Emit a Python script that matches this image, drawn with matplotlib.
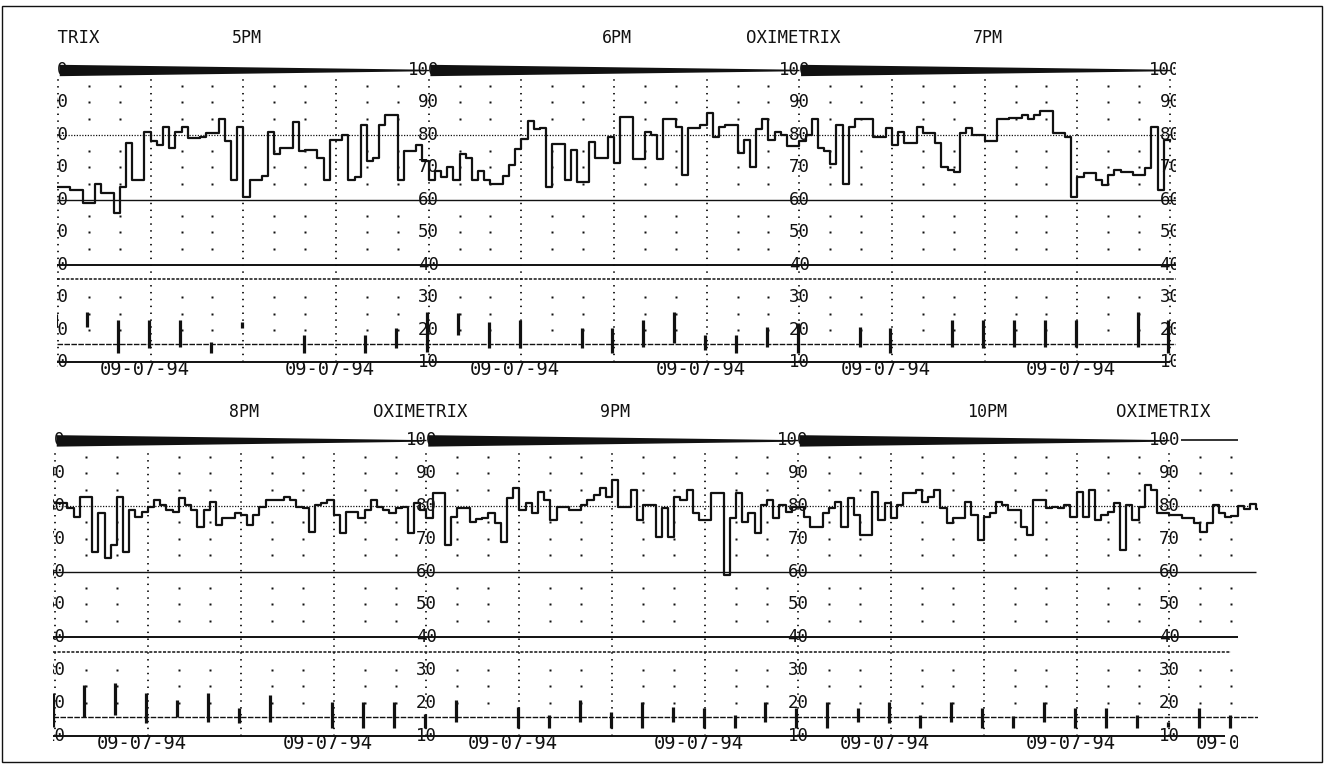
import numpy as np
import matplotlib
matplotlib.use("Agg")
import matplotlib.pyplot as plt
from matplotlib.patches import Rectangle

# ---------------- data (SpO2 %, one value per minute) ----------------
spo2_5pm = [64, 64, 63, 63, 59, 59, 65, 62, 62, 56,
            64, 77.5, 66, 66, 81, 78, 77, 82.5, 76, 81,
            82.5, 79, 79, 79.5, 80.5, 80.5, 85, 78, 66, 82.5,
            61, 66, 66, 67.5, 81, 74, 76, 76, 84, 75,
            75.5, 75.5, 73, 66, 78.5, 78.5, 80, 66, 67, 83,
            72, 73, 83, 86, 86, 66, 75, 75, 77, 72]
spo2_6pm = [66, 69, 67, 70, 66, 74, 73, 66, 69, 66,
            65, 65, 67.5, 70.7, 75.8, 78.8, 84.4, 81.8, 82.3, 63.9,
            77.2, 77.2, 66.1, 75.3, 65.6, 65.6, 77.7, 73, 73, 79.5,
            71.3, 85.6, 85.6, 72.6, 72.6, 81, 80, 72.6, 85, 85,
            82.6, 67.7, 82, 82, 83, 86.7, 79.5, 82.6, 83, 83,
            74.4, 78.6, 70, 81.7, 84.8, 78.6, 81, 80, 76.7, 76.7]
spo2_7pm = [78, 80, 84.8, 76, 75, 71, 83, 65, 82.6, 85,
            85, 85, 79.5, 79.5, 82, 77, 81, 77.5, 77.5, 82.6,
            80.5, 80.5, 77.5, 70.3, 69.2, 68.7, 80.5, 82, 80, 80,
            78, 78, 84.8, 84.8, 85.3, 85.3, 86.3, 85, 86.3, 87.4,
            87.4, 80.5, 80.5, 79.5, 61, 67.2, 68.2, 68.2, 66, 64.6,
            67.7, 69.2, 68.7, 68.7, 67.7, 67.7, 69.7, 82.6, 63, 78.6]
spo2_8pm = [80.8, 80.8, 79.3, 76.7, 82.8, 82.8, 66, 77.8, 64, 68,
            82.8, 66, 78.8, 76.7, 78.3, 79.8, 81.8, 80.3, 78.8, 78.3,
            82.3, 80.3, 78.8, 73.7, 78.8, 81.3, 74.2, 76.2, 76.2, 77.8,
            77.3, 74.2, 77.3, 79.8, 81.8, 81.8, 81.8, 82.8, 81.8, 79.8,
            79.3, 72.2, 80.3, 80.8, 81.8, 77.3, 71.7, 78.3, 78.3, 76.2,
            78.8, 81.8, 79.8, 78.8, 77.8, 79.3, 79.8, 71.7, 80.8, 78.8]
spo2_9pm = [76.2, 83.9, 83.9, 68.1, 76.7, 79.3, 79.3, 75.2, 76, 76.2,
            77.8, 74.7, 69.1, 82.3, 85.4, 78.8, 80.8, 77.8, 84.4, 81.8,
            75.7, 79.8, 79.8, 78.8, 78.8, 80.3, 81.8, 83.4, 85.4, 82.8,
            87.9, 79.8, 79.8, 84.9, 75.7, 80.3, 80.3, 70.6, 79.3, 70.6,
            82.8, 81.8, 84.9, 77.8, 75.7, 75.7, 83.9, 83.9, 59, 76.2,
            83.9, 75.2, 77.8, 71.7, 80.3, 81.8, 76.2, 80.3, 78.3, 79.8]
spo2_10pm = [79.8, 76.7, 73.7, 73.7, 77.8, 79.3, 81.3, 73.7, 82.3, 77.3,
             71.2, 71.2, 84.4, 75.7, 80.8, 76.2, 80.3, 83.9, 83.9, 84.9,
             81.3, 82.8, 84.9, 79.3, 74.7, 76.2, 76.2, 81.3, 77.3, 69.6,
             76.7, 77.8, 81.3, 80.3, 78.8, 78.8, 73.7, 71.2, 81.8, 81.8,
             79.3, 79.8, 79.3, 80.3, 76.7, 84.4, 76.7, 84.9, 75.7, 77.3,
             78.3, 80.8, 66.6, 80.3, 75.7, 79.8, 86.4, 84.9, 77.8, 77.8]
spo2_11pm = [77.3, 77.3, 76.2, 76.2, 74.7, 72.2, 74.7, 80.3, 77.8, 76.7,
             77, 80, 79, 80.5, 79]

# event marks every 5 minutes: (low, high) or None
events_5pm = [(21, 25), (20.9, 25.5), (13, 23.1), (14.5, 23.1), (14.8, 23.1), (13, 16.3),
              (20.6, 22.5), None, (13, 18.5), None, (13, 18.5), (14.5, 20.6)]
events_6pm = [(13.3, 25.5), (18.5, 25.2), (14.5, 22.5), (14.5, 23.1), None, (14.5, 20.6),
              (13, 20.6), (14.8, 23.1), (16, 25.5), (13.9, 18.5), (13, 18.5), (14.8, 20.9)]
events_7pm = [(13, 22), None, (14.8, 20.9), (13, 20.6), None, (14.8, 23.1),
              (14.5, 23.1), (14.8, 23.1), (14.8, 23.2), (14.8, 23.1), None, (14.8, 25.5),
              (13, 23.1)]
events_8pm = [(12.6, 23), (15.7, 25.4), (16.3, 26), (13.8, 23), (15.7, 20.9), (14.1, 23),
              (13.8, 18.4), (14.1, 22.4), None, (12.3, 20.3), (12.3, 20.3), (12.3, 20.3)]
events_9pm = [(12.3, 16.6), (14.1, 20.9), None, (12.3, 18.7), (12.3, 16.3), (14.1, 20.9),
              (12.3, 17.2), (12.3, 20.3), (14.1, 18.7), (12.3, 18.4), (12.3, 16.3), (14.1, 20.3)]
events_10pm = [(12.3, 18.4), (12.3, 20.3), (14.1, 18.4), (13.8, 20.3), (12.3, 16.3), (14.1, 20.3),
               (12.3, 18.4), (12.3, 15.9), (14.1, 20.3), (12.3, 18.4), (12.3, 18.4), (12.3, 16.3)]
events_11pm = [(12.6, 14.1), (12.3, 18.4), (12.3, 16.3)]

hours_row1 = ["5PM", "6PM", "7PM"]
hours_row2 = ["8PM", "9PM", "10PM"]
scale_values = [100, 90, 80, 70, 60, 50, 40, 30, 20, 10]
scale_labels = ["100", "90", "80", "70", "60", "50", "40", "30", "20", "10"]
date_text = "09-07-94"
brand_text = "OXIMETRIX"

# ---------------- figure ----------------
W, H = 1327, 764
fig = plt.figure(figsize=(W / 100, H / 100), dpi=100)
fig.patch.set_facecolor("white")
INK = "#111111"
MONO = "DejaVu Sans Mono"


def px_axes(left, right, top, bottom):
    return fig.add_axes([left / W, 1 - bottom / H, (right - left) / W, (bottom - top) / H])


def draw_row(ax, panels, events, hours, brand_at, n_panels, t_end, line_end, top_v):
    # dotted time grid
    majors = np.arange(0, t_end + 1, 15)
    ax.vlines(majors, 10, 97.5, colors=INK, lw=1.3, linestyles=(0, (0.8, 3.0)))
    minors = [m for m in range(0, int(t_end) + 1, 5) if m % 15]
    mx, my = np.meshgrid(minors, [95, 90, 85, 75, 70, 65, 55, 50, 45, 30, 25, 20])
    ax.plot(mx.ravel(), my.ravel(), ls="none", marker="s", ms=1.5, mfc=INK, mec="none")

    # horizontal reference lines
    x0 = ax.get_xlim()[0]
    ax.hlines(80, x0, line_end + 2, colors=INK, lw=0.9, linestyles=(0, (1, 1.2)))
    ax.hlines(60, x0, line_end + 3, colors=INK, lw=1.0)
    ax.hlines(40, x0, line_end, colors=INK, lw=1.4)
    ax.hlines(35.6, x0, line_end - 1, colors=INK, lw=1.1, linestyles=(0, (2, 1)))
    ax.hlines(15.6, x0, line_end + 4, colors=INK, lw=1.0, linestyles=(0, (4, 1)))
    ax.hlines(10, x0, line_end - 2, colors=INK, lw=1.4)

    # tapered band at 100 for every full hour panel
    for p in range(n_panels):
        tt = np.linspace(p * 60 + 0.2, p * 60 + 59.2, 100)
        half = np.linspace(1.75, 0.25, 100)
        ax.fill_between(tt, 100 - half, 100 + half, color=INK, lw=0)
        ax.hlines(100, p * 60 + 59, p * 60 + 60, colors=INK, lw=1.0)
    if t_end > n_panels * 60 + 5:
        ax.hlines(100, n_panels * 60 + 1.8, line_end, colors=INK, lw=1.2)

    # step trace
    vals = np.concatenate([np.asarray(v, float) for v in panels])
    t = np.arange(len(vals) + 1)
    ax.step(t, np.append(vals, vals[-1]), where="post", color=INK, lw=1.6)

    # event marks
    for p, ev in enumerate(events):
        for k, e in enumerate(ev):
            if e is None:
                continue
            ax.vlines(p * 60 + 5 * k - 0.25, e[0], e[1], colors=INK, lw=2.3)

    # scale labels at each hour boundary
    for b in range(0, int(t_end) + 1, 60):
        for v, s in zip(scale_values, scale_labels):
            off = -0.8 if s == "100" else 0.0
            ax.text(b + off, v, s, ha="center", va="center", fontsize=12.5,
                    family=MONO, color=INK, clip_on=True)

    # hour labels, brand labels and dates
    for p, h in enumerate(hours):
        ax.text(p * 60 + 30.5, top_v, h, ha="center", va="center",
                fontsize=12, family=MONO, color=INK, clip_on=True)
    for b in brand_at:
        ax.text(b - 1.0, top_v, brand_text, ha="center", va="center",
                fontsize=12.5, family=MONO, color=INK, clip_on=True)
    for p in range(len(panels)):
        for q in (15, 45):
            tq = p * 60 + q - 1.0
            if p >= n_panels:
                if q == 45:
                    continue
                tq = p * 60 + q - 3.5
            txt = ax.text(tq, 7.7, date_text, ha="center", va="center", fontsize=13.5,
                          family=MONO, color=INK, clip_on=True)
            if p >= n_panels:
                clip = Rectangle((p * 60, 0), line_end - p * 60, 20,
                                 transform=ax.transData, visible=False)
                txt.set_clip_path(clip)


# row 1 : 5PM - 8PM
ax1 = px_axes(56.5, 1175.5, 20, 382)
ax1.set_xlim(-0.243, 180.89)
ax1.set_ylim(4.0, 115.38)
ax1.axis("off")
draw_row(ax1, [spo2_5pm, spo2_6pm, spo2_7pm], [events_5pm, events_6pm, events_7pm],
         hours_row1, [0, 120], 3, 180, 182, 109.8)

# row 2 : 8PM - 11PM
ax2 = px_axes(52.5, 1258, 395, 755)
ax2.set_xlim(-0.404, 194.3)
ax2.set_ylim(4.09, 113.84)
ax2.axis("off")
draw_row(ax2, [spo2_8pm, spo2_9pm, spo2_10pm, spo2_11pm],
         [events_8pm, events_9pm, events_10pm, events_11pm],
         hours_row2, [60, 180], 3, 194.3, 191, 108.7)

# page frame
fig.add_artist(Rectangle((1.5 / W, 2 / H), 1320.5 / W, 756 / H, transform=fig.transFigure,
                         fill=False, lw=1.0, ec=INK))

fig.savefig("out.png", dpi=100, facecolor="white")
